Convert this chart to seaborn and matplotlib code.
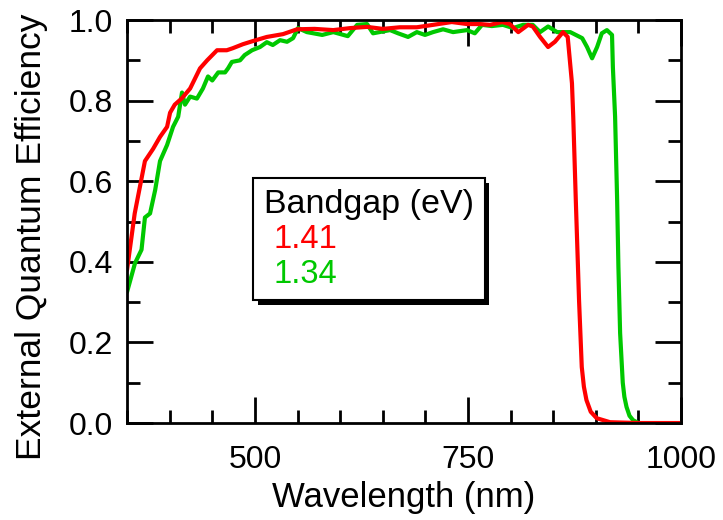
import matplotlib
matplotlib.use("Agg")
import matplotlib.pyplot as plt
from matplotlib.ticker import MultipleLocator
from matplotlib.lines import Line2D
import matplotlib.patheffects as pe
import seaborn as sns
import pandas as pd

# ---- data ----
wl_141 = [350, 359, 371, 380.5, 388.7, 397, 400.5, 406, 414.5, 424,
          435.6, 444, 455.6, 467, 474, 486, 498, 514, 533, 549.5,
          570, 592, 612, 631.6, 650, 670, 690, 709, 731, 749,
          764, 776, 790, 799, 809, 820.5, 826, 834.6, 844, 852,
          861.5, 867, 872, 873.5, 876.5, 880.3, 883.5, 886, 889, 894,
          901, 916.7, 950, 1000]
eqe_141 = [0.38, 0.52, 0.65, 0.68, 0.71, 0.735, 0.77, 0.79, 0.806, 0.83,
           0.88, 0.90, 0.925, 0.925, 0.93, 0.94, 0.948, 0.958, 0.965, 0.977,
           0.978, 0.975, 0.98, 0.983, 0.978, 0.982, 0.982, 0.988, 0.995, 0.99,
           0.99, 0.988, 0.995, 0.99, 0.97, 0.988, 0.984, 0.958, 0.933, 0.946,
           0.97, 0.958, 0.843, 0.76, 0.553, 0.305, 0.139, 0.09, 0.057, 0.028,
           0.012, 0.002, 0.0, 0.0]

wl_134 = [350, 359.4, 367, 371, 377, 383, 388.7, 397, 404, 410,
          414.5, 418, 424, 432, 439, 445, 450, 457, 465, 468.5,
          473, 482.6, 488, 496.7, 506, 514, 521, 529.5, 537.7, 544.8,
          550.6, 561, 579, 592, 609, 620, 631.6, 638.6, 658.6, 668,
          679.7, 690, 699.6, 709, 720.8, 732.5, 749, 758, 766.5, 778,
          791, 803, 814.6, 826, 834.6, 844, 854.5, 870, 884, 889.7,
          895.6, 901.5, 907, 913, 919, 920, 922.6, 925, 926.5, 928.5,
          931.6, 933.5, 936, 939.5, 943.7, 950]
eqe_134 = [0.325, 0.397, 0.43, 0.51, 0.52, 0.578, 0.65, 0.69, 0.735, 0.76,
           0.82, 0.79, 0.81, 0.805, 0.83, 0.86, 0.85, 0.87, 0.87, 0.88,
           0.896, 0.90, 0.913, 0.925, 0.933, 0.945, 0.938, 0.95, 0.946, 0.955,
           0.98, 0.97, 0.963, 0.97, 0.96, 0.988, 0.99, 0.967, 0.975, 0.967,
           0.958, 0.97, 0.963, 0.97, 0.977, 0.97, 0.975, 0.967, 0.988, 0.985,
           0.988, 0.98, 0.988, 0.988, 0.97, 0.984, 0.97, 0.97, 0.955, 0.933,
           0.905, 0.933, 0.967, 0.975, 0.963, 0.883, 0.76, 0.553, 0.387, 0.223,
           0.10, 0.065, 0.04, 0.018, 0.007, 0.0]

bandgaps = ["1.41", "1.34"]
colors = {"1.41": "#FF0000", "1.34": "#00C800"}
x_ticks = [500, 750, 1000]
y_ticks = [0.0, 0.2, 0.4, 0.6, 0.8, 1.0]

df = pd.concat([
    pd.DataFrame({"Wavelength (nm)": wl_134, "EQE": eqe_134, "Bandgap": "1.34"}),
    pd.DataFrame({"Wavelength (nm)": wl_141, "EQE": eqe_141, "Bandgap": "1.41"}),
], ignore_index=True)

sns.set_style("ticks")
plt.rcParams["font.family"] = ["Liberation Sans", "DejaVu Sans"]
for k in ["text.color", "axes.labelcolor", "xtick.color", "ytick.color", "axes.edgecolor"]:
    plt.rcParams[k] = "black"

fig = plt.figure(figsize=(7.23, 5.20), dpi=100)
ax = fig.add_axes([0.1757, 0.1865, 0.942 - 0.1757, 0.9615 - 0.1865])

sns.lineplot(data=df, x="Wavelength (nm)", y="EQE", hue="Bandgap",
             hue_order=["1.34", "1.41"], palette=colors, linewidth=3.0,
             ax=ax, legend=False)

ax.set_xlim(350, 1000)
ax.set_ylim(0, 1.0)
ax.set_xticks(x_ticks)
ax.set_xticklabels([str(t) for t in x_ticks])
ax.set_yticks(y_ticks)
ax.set_yticklabels([f"{t:.1f}" for t in y_ticks])
ax.xaxis.set_minor_locator(MultipleLocator(50))
ax.yaxis.set_minor_locator(MultipleLocator(0.1))

for s in ax.spines.values():
    s.set_visible(True)
    s.set_linewidth(2.0)
    s.set_color("black")

ax.tick_params(which="both", direction="in", top=True, right=True,
               width=2.0, color="black", labelsize=23, labelcolor="black")
ax.tick_params(axis="x", which="major", pad=16)
ax.tick_params(axis="y", which="major", pad=10)
ax.tick_params(which="major", length=19)
ax.tick_params(which="minor", length=9.5)

ax.set_xlabel("Wavelength (nm)", fontsize=25, labelpad=4.5, color="black")
ax.set_ylabel("External Quantum Efficiency", fontsize=25.5, labelpad=15, color="black")
ax.yaxis.label.set_y(0.462)

# legend
handles = [Line2D([], [], color=colors[b], linewidth=0) for b in bandgaps]
leg = ax.legend(handles, bandgaps, title="Bandgap (eV)",
                loc="upper left", bbox_to_anchor=(0.2274, 0.608),
                handlelength=0, handletextpad=0.3, fontsize=23.5,
                title_fontsize=24.5, frameon=True, fancybox=False,
                borderpad=0.33, labelspacing=0.12, alignment="left",
                borderaxespad=0)
frame = leg.get_frame()
frame.set_edgecolor("black")
frame.set_facecolor("white")
frame.set_linewidth(1.5)
frame.set_alpha(1.0)
frame.set_path_effects([pe.SimplePatchShadow(offset=(3.5, -3.5), shadow_rgbFace="black", alpha=1.0),
                        pe.Normal()])
for t, b in zip(leg.get_texts(), bandgaps):
    t.set_color(colors[b])

fig.savefig("out.png", dpi=100)
